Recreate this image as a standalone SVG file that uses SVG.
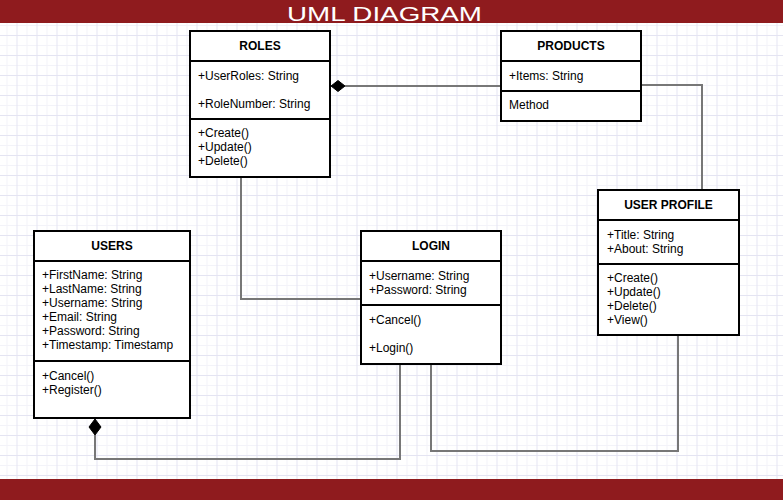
<svg xmlns="http://www.w3.org/2000/svg" width="783" height="500" viewBox="0 0 783 500">
<defs>
<pattern id="grid" patternUnits="userSpaceOnUse" x="16.5" y="15" width="20" height="20">
<rect width="20" height="20" fill="#ffffff"/>
<path d="M10.5 0V20M0 10.5H20" stroke="#f3f3f9" stroke-width="1" fill="none"/>
<path d="M0.5 0V20M0 0.5H20" stroke="#e4e4f2" stroke-width="1" fill="none"/>
</pattern>
<style>
.box{fill:#ffffff;stroke:#000000;stroke-width:2}
.sep{stroke:#000000;stroke-width:2}
.title{font-family:"Liberation Sans",Arial,sans-serif;font-size:12px;font-weight:bold;fill:#000000;text-anchor:middle}
.txt{font-family:"Liberation Sans",Arial,sans-serif;font-size:12px;fill:#000000}
.conn{fill:none;stroke:#777777;stroke-width:2}
.dia{fill:#000000;stroke:#000000;stroke-width:1}
</style>
</defs>
<rect x="0" y="0" width="783" height="500" fill="url(#grid)"/>
<rect x="0" y="0" width="783" height="23" fill="#8f1b1e"/>
<rect x="0" y="479" width="783" height="21" fill="#8f1b1e"/>
<text x="384.5" y="21" font-family="Liberation Sans,Arial,sans-serif" font-size="21" fill="#ffffff" text-anchor="middle" textLength="195" lengthAdjust="spacingAndGlyphs">UML DIAGRAM</text>

<g id="connectors">
<polyline class="conn" points="345,86 501,86"/>
<polygon class="dia" points="331,86 338,80.5 345,86 338,91.5"/>
<polyline class="conn" points="641,85 702,85 702,190"/>
<polyline class="conn" points="241,177 241,299 361,299"/>
<polyline class="conn" points="95,435 95,459 400,459 400,364"/>
<polygon class="dia" points="95,419 101,427 95,435 89,427"/>
<polyline class="conn" points="431,364 431,451 678,451 678,335"/>
</g>

<g id="roles">
<rect class="box" x="190" y="31" width="140" height="146"/>
<line class="sep" x1="190" y1="61" x2="330" y2="61"/>
<line class="sep" x1="190" y1="119" x2="330" y2="119"/>
<text class="title" x="260" y="50">ROLES</text>
<text class="txt" x="198" y="80">+UserRoles: String</text>
<text class="txt" x="198" y="108">+RoleNumber: String</text>
<text class="txt" x="198" y="137">+Create()</text>
<text class="txt" x="198" y="151">+Update()</text>
<text class="txt" x="198" y="165">+Delete()</text>
</g>

<g id="products">
<rect class="box" x="501" y="31" width="140" height="90"/>
<line class="sep" x1="501" y1="61" x2="641" y2="61"/>
<line class="sep" x1="501" y1="91" x2="641" y2="91"/>
<text class="title" x="571" y="50">PRODUCTS</text>
<text class="txt" x="509" y="80">+Items: String</text>
<text class="txt" x="509" y="109">Method</text>
</g>

<g id="users">
<rect class="box" x="34" y="231" width="156" height="187"/>
<line class="sep" x1="34" y1="261" x2="190" y2="261"/>
<line class="sep" x1="34" y1="361" x2="190" y2="361"/>
<text class="title" x="112" y="250">USERS</text>
<text class="txt" x="42" y="279">+FirstName: String</text>
<text class="txt" x="42" y="293">+LastName: String</text>
<text class="txt" x="42" y="307">+Username: String</text>
<text class="txt" x="42" y="321">+Email: String</text>
<text class="txt" x="42" y="335">+Password: String</text>
<text class="txt" x="42" y="349">+Timestamp: Timestamp</text>
<text class="txt" x="42" y="380">+Cancel()</text>
<text class="txt" x="42" y="394">+Register()</text>
</g>

<g id="login">
<rect class="box" x="361" y="231" width="140" height="133"/>
<line class="sep" x1="361" y1="261" x2="501" y2="261"/>
<line class="sep" x1="361" y1="305" x2="501" y2="305"/>
<text class="title" x="431" y="250">LOGIN</text>
<text class="txt" x="369" y="280">+Username: String</text>
<text class="txt" x="369" y="294">+Password: String</text>
<text class="txt" x="369" y="324">+Cancel()</text>
<text class="txt" x="369" y="352">+Login()</text>
</g>

<g id="user-profile">
<rect class="box" x="598" y="190" width="141" height="145"/>
<line class="sep" x1="598" y1="220" x2="739" y2="220"/>
<line class="sep" x1="598" y1="264" x2="739" y2="264"/>
<text class="title" x="668.5" y="209">USER PROFILE</text>
<text class="txt" x="607" y="239">+Title: String</text>
<text class="txt" x="607" y="253">+About: String</text>
<text class="txt" x="607" y="282">+Create()</text>
<text class="txt" x="607" y="296">+Update()</text>
<text class="txt" x="607" y="310">+Delete()</text>
<text class="txt" x="607" y="324">+View()</text>
</g>
</svg>
